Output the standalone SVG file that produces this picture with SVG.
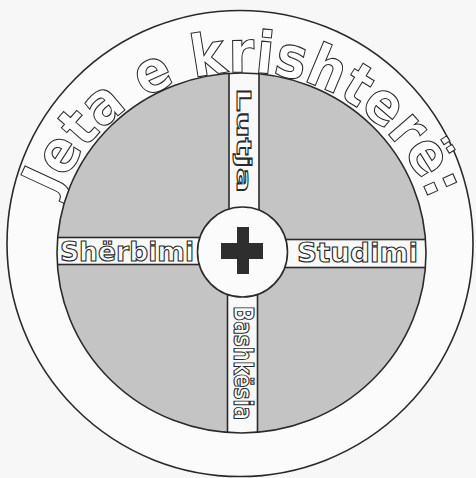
<svg xmlns="http://www.w3.org/2000/svg" width="476" height="478" viewBox="0 0 476 478">
<style>
.ol{fill:#ffffff;stroke:#2a2a2a;stroke-width:1.1;font-family:"DejaVu Sans","Liberation Sans",sans-serif;font-weight:bold}
.line{stroke:#2a2a2a;stroke-width:1.6}
.bar{fill:#f9f9f9;stroke:#2a2a2a;stroke-width:1.6}
</style>
<defs>
<clipPath id="inner"><ellipse cx="241.5" cy="253" rx="184.5" ry="180"/></clipPath>
<path id="arc" d="M 57.6 197.1 A 200 200 0 0 1 430.9 203.6"/>
</defs>
<rect width="476" height="478" fill="#f7f7f7"/>
<g id="outer-ring">
<circle cx="240" cy="243.5" r="233" fill="#fbfbfb" class="line"/>
</g>
<g id="title">
<text class="ol" font-size="58"><textPath href="#arc" textLength="478" lengthAdjust="spacingAndGlyphs">Jeta e krishterë:</textPath></text>
</g>
<g id="inner-disc">
<ellipse cx="241.5" cy="253" rx="184.5" ry="180" fill="#c4c4c4"/>
</g>
<g id="connectors" clip-path="url(#inner)">
<rect class="bar" x="229" y="60" width="30" height="160"/>
<rect class="bar" x="227.5" y="285" width="30" height="160"/>
<rect class="bar" x="50" y="237.5" width="160" height="27"/>
<rect class="bar" x="275" y="239.5" width="160" height="28"/>
</g>
<ellipse cx="241.5" cy="253" rx="184.5" ry="180" fill="none" class="line"/>
<g id="center">
<circle cx="242.5" cy="252" r="45" fill="#fbfbfb" class="line"/>
<path d="M237 227 H249 V243 H263 V259 H249 V274 H237 V259 H221 V243 H237 Z" fill="#2e2e2e"/>
</g>
<g id="node-lutja">
<text class="ol" font-size="20" transform="translate(237,88) rotate(90)" textLength="105" lengthAdjust="spacingAndGlyphs">Lutja</text>
</g>
<g id="node-sherbimi">
<text class="ol" font-size="27" x="60" y="261" textLength="134" lengthAdjust="spacingAndGlyphs">Shërbimi</text>
</g>
<g id="node-studimi">
<text class="ol" font-size="27" x="297" y="262" textLength="121" lengthAdjust="spacingAndGlyphs">Studimi</text>
</g>
<g id="node-bashkesia">
<text class="ol" font-size="26" transform="translate(234,306) rotate(90)" textLength="114" lengthAdjust="spacingAndGlyphs">Bashkësia</text>
</g>
</svg>
